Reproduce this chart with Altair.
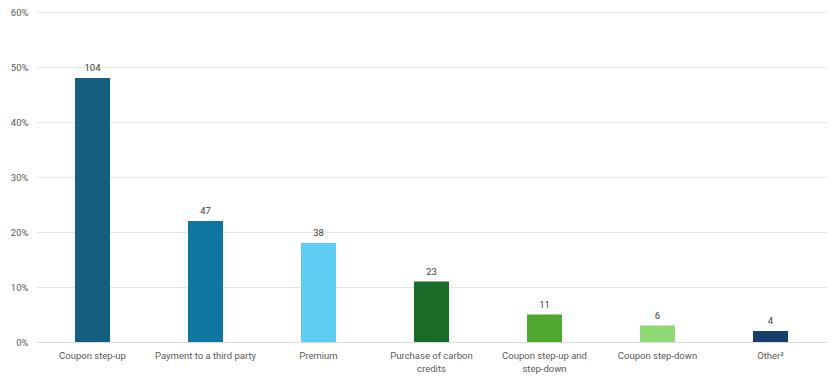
import altair as alt
import pandas as pd

categories = ["Coupon step-up", "Payment to a third party", "Premium",
              "Purchase of carbon credits", "Coupon step-up and step-down",
              "Coupon step-down", "Other²"]
shares = [0.48, 0.22, 0.18, 0.11, 0.05, 0.03, 0.02]
counts = [104, 47, 38, 23, 11, 6, 4]
colors = ["#155e82", "#0e76a0", "#5fcdf3", "#1a6b27", "#4ea72f", "#8ed974", "#173f6b"]

df = pd.DataFrame({"cat": categories, "share": shares, "count": counts})

FONT = "Roboto"
label_expr = ("datum.label == 'Purchase of carbon credits' ? ['Purchase of carbon', 'credits'] : "
              "datum.label == 'Coupon step-up and step-down' ? ['Coupon step-up and', 'step-down'] : datum.label")

x = alt.X("cat:N", sort=categories, title=None,
          scale=alt.Scale(paddingInner=0.69, paddingOuter=0.345),
          axis=alt.Axis(labelAngle=0, labelExpr=label_expr, ticks=False,
                        domainColor="#d9d9d9", labelColor="#595959", labelFont=FONT,
                        labelFontSize=9.5, labelPadding=8, labelLineHeight=13, grid=False))
y = alt.Y("share:Q", title=None,
          scale=alt.Scale(domain=[0, 0.6], nice=False),
          axis=alt.Axis(format=".0%", values=[0, 0.1, 0.2, 0.3, 0.4, 0.5, 0.6],
                        domain=False, ticks=False, gridColor="#e6e6e6",
                        labelColor="#595959", labelFont=FONT, labelFontSize=9.5,
                        labelPadding=8))

bars = alt.Chart(df).mark_bar().encode(
    x=x, y=y,
    color=alt.Color("cat:N", sort=categories, legend=None,
                    scale=alt.Scale(domain=categories, range=colors)))

text = alt.Chart(df).mark_text(dy=-10, font=FONT, fontSize=9.5, color="#404040").encode(
    x=alt.X("cat:N", sort=categories), y="share:Q", text="count:Q")

chart = (bars + text).properties(
    width=791, height=330,
    autosize=alt.AutoSizeParams(type="none"),
    padding={"left": 28, "top": 4, "right": 4, "bottom": 36},
).configure(background="white").configure_view(stroke=None, strokeWidth=0)

chart.save("out.html", embed_options={"renderer": "svg", "actions": False})
